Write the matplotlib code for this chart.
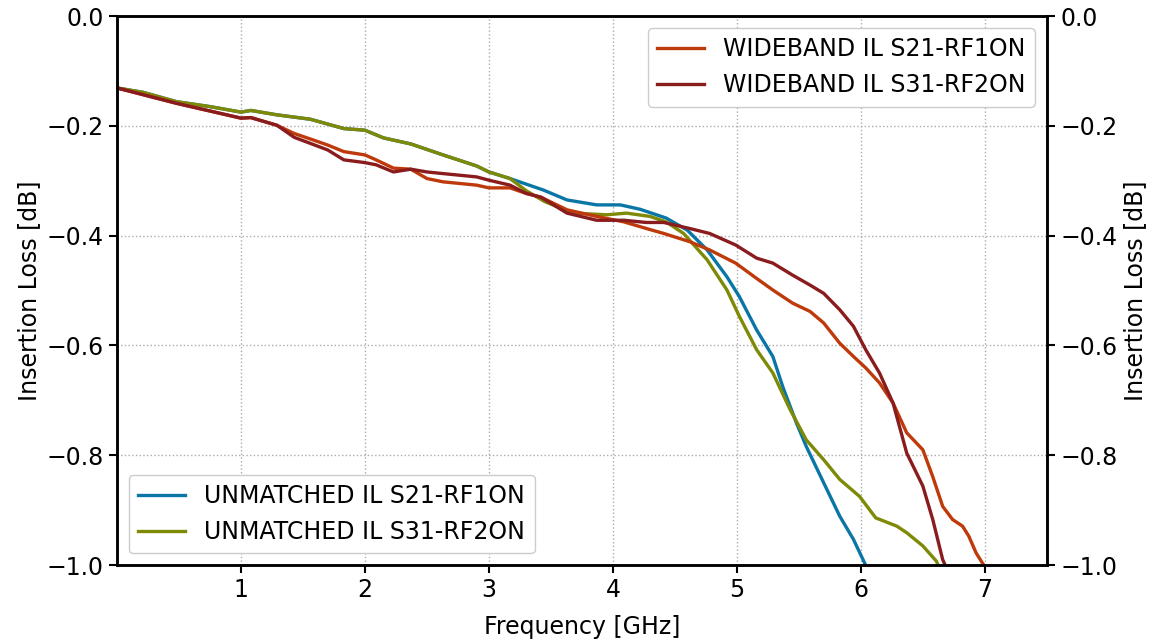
import matplotlib
matplotlib.use("Agg")
import matplotlib.pyplot as plt

# Unmatched S21 (blue)
un21_f = [0.0, 0.21, 0.48, 0.75, 1.0, 1.08, 1.29, 1.56, 1.83, 2.0, 2.15, 2.37, 2.63, 2.9, 3.0, 3.17,
          3.44, 3.63, 3.87, 4.06, 4.22, 4.43, 4.6, 4.76, 4.92, 5.02, 5.16, 5.29, 5.37, 5.48, 5.56,
          5.70, 5.83, 5.94, 6.03, 6.06]
un21_il = [-0.131, -0.139, -0.156, -0.165, -0.175, -0.172, -0.180, -0.188, -0.205, -0.208, -0.222,
           -0.233, -0.253, -0.273, -0.284, -0.296, -0.317, -0.335, -0.344, -0.344, -0.352, -0.368,
           -0.390, -0.426, -0.475, -0.511, -0.572, -0.620, -0.675, -0.741, -0.784, -0.850, -0.911,
           -0.953, -0.996, -1.01]

# Unmatched S31 (olive)
un31_f = [0.0, 0.21, 0.48, 0.75, 1.0, 1.08, 1.29, 1.56, 1.83, 2.0, 2.15, 2.37, 2.63, 2.9, 3.0, 3.17,
          3.3, 3.45, 3.68, 3.95, 4.11, 4.30, 4.43, 4.57, 4.76, 4.92, 5.02, 5.16, 5.29, 5.43, 5.56,
          5.70, 5.83, 5.99, 6.12, 6.29, 6.37, 6.50, 6.61, 6.64]
un31_il = [-0.131, -0.139, -0.156, -0.165, -0.175, -0.172, -0.180, -0.188, -0.205, -0.208, -0.222,
           -0.233, -0.253, -0.273, -0.284, -0.296, -0.318, -0.338, -0.359, -0.362, -0.359, -0.365,
           -0.375, -0.396, -0.444, -0.499, -0.547, -0.608, -0.650, -0.717, -0.772, -0.808, -0.844,
           -0.875, -0.914, -0.929, -0.941, -0.965, -0.993, -1.01]

# Wideband S21 (orange-red)
wb21_f = [0.0, 0.48, 1.0, 1.08, 1.29, 1.43, 1.56, 1.70, 1.83, 2.0, 2.09, 2.23, 2.37, 2.5, 2.63, 2.9,
          3.0, 3.17, 3.3, 3.42, 3.63, 3.87, 4.09, 4.27, 4.41, 4.62, 4.78, 4.99, 5.16, 5.29, 5.45,
          5.59, 5.70, 5.83, 5.94, 6.04, 6.15, 6.26, 6.37, 6.50, 6.58, 6.66, 6.74, 6.82, 6.87, 6.93,
          6.98, 7.02]
wb21_il = [-0.131, -0.159, -0.186, -0.185, -0.199, -0.214, -0.224, -0.235, -0.247, -0.253, -0.262,
           -0.277, -0.279, -0.296, -0.302, -0.308, -0.313, -0.313, -0.323, -0.330, -0.353, -0.365,
           -0.375, -0.387, -0.396, -0.411, -0.426, -0.450, -0.478, -0.499, -0.523, -0.538, -0.559,
           -0.596, -0.620, -0.641, -0.668, -0.705, -0.759, -0.790, -0.839, -0.893, -0.917, -0.929,
           -0.947, -0.978, -0.996, -1.01]

# Wideband S31 (dark red)
wb31_f = [0.0, 0.48, 1.0, 1.08, 1.29, 1.43, 1.56, 1.70, 1.83, 2.0, 2.09, 2.23, 2.37, 2.5, 2.63, 2.9,
          3.0, 3.17, 3.3, 3.42, 3.63, 3.87, 4.09, 4.27, 4.41, 4.62, 4.78, 4.99, 5.16, 5.29, 5.45,
          5.59, 5.70, 5.83, 5.94, 6.04, 6.15, 6.26, 6.37, 6.50, 6.58, 6.66, 6.70]
wb31_il = [-0.131, -0.159, -0.186, -0.185, -0.199, -0.221, -0.232, -0.244, -0.262, -0.267, -0.271,
           -0.284, -0.279, -0.284, -0.287, -0.293, -0.299, -0.308, -0.323, -0.330, -0.359, -0.372,
           -0.372, -0.376, -0.376, -0.387, -0.396, -0.417, -0.441, -0.450, -0.472, -0.490, -0.505,
           -0.535, -0.565, -0.608, -0.650, -0.705, -0.796, -0.856, -0.917, -0.990, -1.01]

labels_wb = ["WIDEBAND IL S21-RF1ON", "WIDEBAND IL S31-RF2ON"]
labels_un = ["UNMATCHED IL S21-RF1ON", "UNMATCHED IL S31-RF2ON"]
yticks = [0.0, -0.2, -0.4, -0.6, -0.8, -1.0]
xticks = [1, 2, 3, 4, 5, 6, 7]

c_blue = "#0a76a6"
c_olive = "#7e8a06"
c_red = "#bf3a0a"
c_dred = "#8a1c1e"

fs = 17
fig = plt.figure(figsize=(11.58, 6.4), dpi=100)
ax = fig.add_axes([0.101, 0.117, 0.803, 0.858])
lw = 2.4
l1, = ax.plot(un21_f, un21_il, color=c_blue, lw=lw)
l2, = ax.plot(un31_f, un31_il, color=c_olive, lw=lw)
l3, = ax.plot(wb21_f, wb21_il, color=c_red, lw=lw)
l4, = ax.plot(wb31_f, wb31_il, color=c_dred, lw=lw)

ax.set_xlim(0, 7.5)
ax.set_ylim(-1.0, 0.0)
ax.set_xticks(xticks)
ax.set_yticks(yticks)
ax.grid(True, linestyle=":", color="#aaaaaa", linewidth=1.0)
ax.tick_params(labelsize=fs, width=1.5, length=6)
for s in ax.spines.values():
    s.set_linewidth(1.8)
ax.set_xlabel("Frequency [GHz]", fontsize=fs, labelpad=9)
ax.set_ylabel("Insertion Loss [dB]", fontsize=fs)

ax2 = ax.twinx()
ax2.set_ylim(-1.0, 0.0)
ax2.set_yticks(yticks)
ax2.tick_params(labelsize=fs, width=1.5, length=6)
ax2.set_ylabel("Insertion Loss [dB]", fontsize=fs)
for s in ax2.spines.values():
    s.set_linewidth(1.8)

leg1 = ax.legend([l3, l4], labels_wb, loc="upper right", fontsize=fs, framealpha=1)
ax.add_artist(leg1)
ax.legend([l1, l2], labels_un, loc="lower left", fontsize=fs, framealpha=1)

fig.savefig("out.png", dpi=100)
